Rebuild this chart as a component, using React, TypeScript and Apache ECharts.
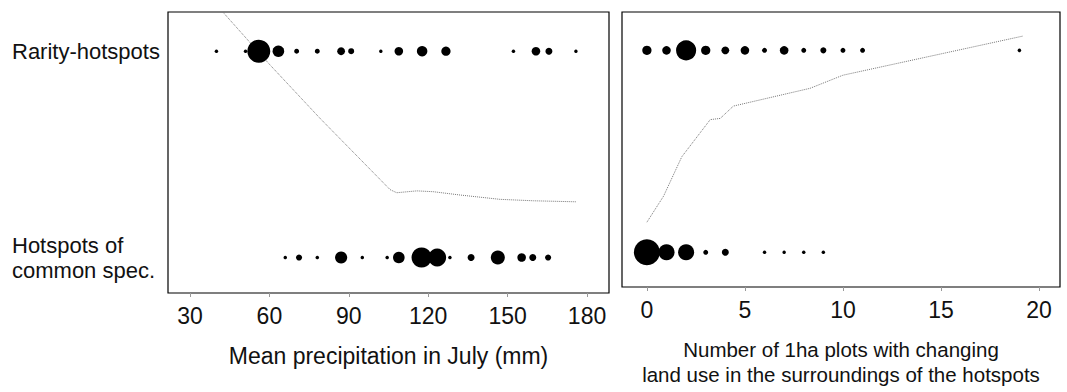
import React, { useEffect, useRef } from "react";
import * as echarts from "echarts";

const rowNames = ["Hotspots of\ncommon spec.", "Rarity-hotspots"];
const precipTicks = [30, 60, 90, 120, 150, 180];
const landTicks = [0, 5, 10, 15, 20];
const precipTitle = "Mean precipitation in July (mm)";
const landTitle = "Number of 1ha plots with changing\nland use in the surroundings of the hotspots";

const precipRarityX = [40, 51, 56, 63.4, 70.3, 78.1, 87.1, 90.9, 102.1, 108.9, 117.7, 126.7, 152.2, 160.7, 165.6, 175.8];
const precipRarityN = [1, 1, 43, 11, 2, 2, 5, 3, 1, 6, 9, 7, 1, 6, 4, 1];
const precipCommonX = [66, 71.2, 78.1, 87.1, 95.1, 104.5, 108.9, 117.5, 123.4, 128.2, 136.2, 146.3, 155.3, 159.5, 165.3];
const precipCommonN = [1, 3, 1, 12, 1, 1, 11, 33, 26, 1, 4, 16, 6, 4, 3];
const landRarityX = [0, 1, 2, 3, 4, 5, 6, 7, 8, 9, 10, 11, 19];
const landRarityN = [7, 6, 33, 7, 5, 6, 2, 6, 2, 3, 2, 2, 1];
const landCommonX = [0, 1, 2, 3, 4, 6, 7, 8, 9];
const landCommonN = [55, 21, 21, 2, 4, 1, 1, 1, 1];

const precipCurveX = [42.4, 60.2, 79.1, 105.6, 108.1, 115.7, 121.9, 132.0, 147.1, 159.7, 176.1];
const precipCurveY = [1.19, 0.934, 0.675, 0.329, 0.314, 0.323, 0.319, 0.303, 0.282, 0.275, 0.27];
const landCurveX = [0, 0.85, 1.78, 3.23, 3.74, 4.41, 8.32, 10.0, 19.19];
const landCurveY = [0.149, 0.278, 0.473, 0.657, 0.663, 0.724, 0.812, 0.877, 1.071];

const FONT = "'Liberation Sans', Arial, Helvetica, sans-serif";

function bubbles(xs: number[], ns: number[], row: number) {
  return xs.map((x, i) => [x, row, ns[i]]);
}

export default function App() {
  const ref = useRef<HTMLDivElement>(null);
  useEffect(() => {
    if (!ref.current) return;
    const chart = echarts.init(ref.current, undefined, { renderer: "svg" });
    const sizeFn = (v: number[]) => 3.5 * Math.sqrt(v[2]);
    const xAxisBase = (min: number, max: number, ticks: number[], name: string, nameSize: number) => ({
      type: "value" as const,
      min,
      max,
      splitLine: { show: false },
      axisLine: { show: false, onZero: false },
      axisTick: { show: true, customValues: ticks, length: 4, lineStyle: { color: "#999", width: 1 } },
      axisLabel: { customValues: ticks, fontSize: 23, color: "#111", fontFamily: FONT, margin: 11 },
      name,
      nameLocation: "middle" as const,
      nameGap: 50,
      nameTextStyle: { fontSize: nameSize, color: "#111", fontFamily: FONT, lineHeight: 25 },
    });
    const yAxisBase = (showLabels: boolean) => ({
      type: "value" as const,
      min: -0.172,
      max: 1.19,
      splitLine: { show: false },
      axisLine: { show: false, onZero: false },
      axisTick: { show: false },
      axisLabel: {
        show: showLabels,
        customValues: [0, 1],
        formatter: (v: number) => (Math.round(v) === 1 ? rowNames[1] : rowNames[0]),
        align: "left" as const,
        margin: 156,
        fontSize: 22,
        lineHeight: 25,
        color: "#111",
        fontFamily: FONT,
      },
    });
    chart.setOption({
      animation: false,
      backgroundColor: "#fff",
      grid: [
        { left: 168, top: 12, width: 441, height: 281, show: true, borderColor: "#000", borderWidth: 1.2, backgroundColor: "transparent" },
        { left: 622, top: 12, width: 438, height: 281, show: true, borderColor: "#000", borderWidth: 1.2, backgroundColor: "transparent" },
      ],
      xAxis: [
        { ...xAxisBase(21.7, 188.3, precipTicks, precipTitle, 23), gridIndex: 0 },
        { ...xAxisBase(-1.27, 21.07, landTicks, landTitle, 20.5), gridIndex: 1 },
      ],
      yAxis: [
        { ...yAxisBase(true), gridIndex: 0 },
        { ...yAxisBase(false), gridIndex: 1 },
      ],
      series: [
        {
          type: "line",
          xAxisIndex: 0,
          yAxisIndex: 0,
          data: precipCurveX.map((x, i) => [x, precipCurveY[i]]),
          showSymbol: false,
          lineStyle: { color: "#777", width: 1, type: "dotted" },
          clip: true,
          z: 1,
        },
        {
          type: "line",
          xAxisIndex: 1,
          yAxisIndex: 1,
          data: landCurveX.map((x, i) => [x, landCurveY[i]]),
          showSymbol: false,
          lineStyle: { color: "#777", width: 1, type: "dotted" },
          clip: true,
          z: 1,
        },
        {
          type: "scatter",
          xAxisIndex: 0,
          yAxisIndex: 0,
          data: bubbles(precipRarityX, precipRarityN, 1),
          symbolSize: sizeFn,
          itemStyle: { color: "#000", opacity: 1 },
          z: 3,
        },
        {
          type: "scatter",
          xAxisIndex: 0,
          yAxisIndex: 0,
          data: bubbles(precipCommonX, precipCommonN, 0),
          symbolSize: sizeFn,
          itemStyle: { color: "#000", opacity: 1 },
          z: 3,
        },
        {
          type: "scatter",
          xAxisIndex: 1,
          yAxisIndex: 1,
          data: bubbles(landRarityX, landRarityN, 1),
          symbolSize: sizeFn,
          itemStyle: { color: "#000", opacity: 1 },
          z: 3,
        },
        {
          type: "scatter",
          xAxisIndex: 1,
          yAxisIndex: 1,
          data: bubbles(landCommonX, landCommonN, 0),
          symbolSize: sizeFn,
          itemStyle: { color: "#000", opacity: 1 },
          z: 3,
        },
      ],
    });
    return () => chart.dispose();
  }, []);
  return (
    <div
      ref={ref}
      style={{ position: "absolute", left: 0, top: 0, width: 1067, height: 392, background: "#fff" }}
    />
  );
}
